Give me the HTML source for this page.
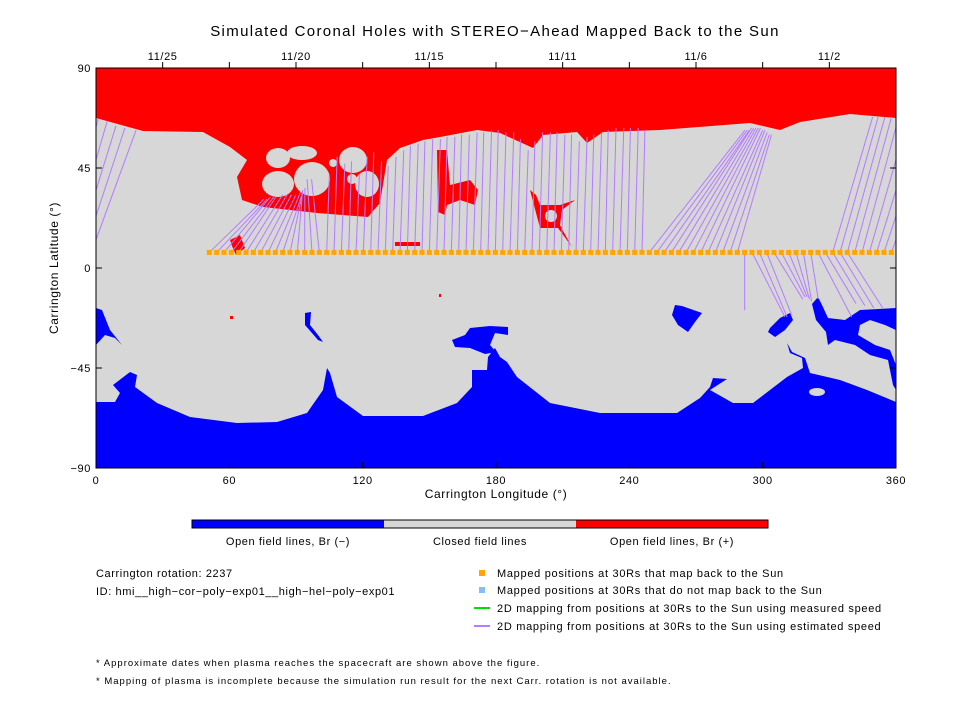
<!DOCTYPE html>
<html><head><meta charset="utf-8"><style>
body{margin:0;background:#fff;}
svg text{font-family:"Liberation Sans",sans-serif;fill:#000;letter-spacing:0.6px;}
</style></head><body>
<svg id="chart" width="960" height="720" viewBox="0 0 960 720" xmlns="http://www.w3.org/2000/svg">
<text x="495" y="36" font-size="15" text-anchor="middle" style="letter-spacing:1.35px">Simulated Coronal Holes with STEREO−Ahead Mapped Back to the Sun</text>
<g id="map">
<rect x="96" y="68" width="800" height="400" fill="#d7d7d7"/>
<path fill="#ff0000" d="M96,68 L896,68 L896,118 L850,114 L800,122 L780,130 L750,123 L660,130 L603,132 L587,143 L577,132 L543,135 L533,148 L500,133 L477,130 L440,137 L423,140 L400,148 L387,160 L380,203 L368,217 L317,213 L263,207 L242,200 L237,177 L247,160 L230,147 L203,132 L143,131 L96,118 Z"/>
<path fill="#ff0000" d="M437,150 L447,150 L450,185 L470,180 L478,190 L475,205 L460,200 L447,205 L445,215 L438,212 Z"/>
<g fill="#d7d7d7">
<ellipse cx="278" cy="158" rx="12" ry="10"/><ellipse cx="302" cy="153" rx="15" ry="7"/>
<ellipse cx="278" cy="184" rx="16" ry="13"/><ellipse cx="312" cy="179" rx="18" ry="17"/>
<ellipse cx="333" cy="163" rx="4" ry="4"/><ellipse cx="353" cy="160" rx="14" ry="13"/>
<ellipse cx="352" cy="179" rx="5" ry="5"/><ellipse cx="367" cy="184" rx="12" ry="13"/>
</g>
<g fill="#ff0000">
<path d="M540,205 L560,205 L575,200 L562,210 L560,225 L568,240 L572,247 L558,228 L540,228 L530,190 L536,195 Z"/>
<rect x="395" y="242" width="25" height="4"/>
<path d="M230,240 L240,235 L245,248 L236,255 L232,246 Z"/>
<rect x="230" y="316" width="3" height="3"/><rect x="439" y="294" width="2" height="3"/>
</g>
<ellipse cx="551" cy="216" rx="6" ry="6" fill="#d7d7d7"/>
<path fill="#0000ff" d="M96,468 L96,402 L115,402 L120,393 L113,385 L130,372 L137,375 L135,387 L157,403 L190,417 L237,423 L277,422 L307,413 L323,390 L327,368 L330,373 L337,397 L363,416 L423,416 L457,403 L472,387 L472,370 L487,370 L488,357 L495,348 L500,357 L507,362 L517,377 L550,403 L600,413 L677,413 L700,398 L710,387 L713,378 L727,379 L710,390 L733,403 L753,403 L787,377 L803,368 L802,358 L790,353 L787,343 L792,352 L805,358 L810,373 L840,380 L867,390 L896,402 L896,468 Z"/>
<g fill="#0000ff">
<path d="M96,308 L102,310 L110,330 L122,345 L115,338 L105,335 L96,345 Z"/>
<path d="M305,313 L311,312 L310,325 L318,335 L323,342 L318,340 L305,325 Z"/>
<path d="M452,340 L465,335 L470,328 L490,326 L508,327 L508,335 L495,333 L490,345 L496,352 L485,354 L470,348 L455,347 Z"/>
<path d="M675,305 L682,306 L702,313 L695,322 L688,332 L678,325 L672,315 Z"/>
<path d="M770,328 L780,318 L790,313 L793,320 L785,330 L775,337 L768,332 Z"/>
<path d="M812,304 L818,297 L822,305 L828,318 L845,320 L860,310 L896,308 L896,330 L885,325 L870,320 L860,325 L858,335 L875,345 L890,350 L896,365 L896,390 L893,385 L888,360 L870,355 L855,345 L835,340 L828,345 L826,332 L816,320 Z"/>
</g>
<ellipse cx="817" cy="392" rx="8" ry="4" fill="#d7d7d7"/>
<g id="lines"></g>
<g id="dots"></g>
</g>
<rect x="96" y="68" width="800" height="400" fill="none" stroke="#000" stroke-width="1"/>
<g id="axes"></g>
<text x="496" y="498" font-size="12" text-anchor="middle">Carrington Longitude (°)</text>
<text transform="translate(58,268) rotate(-90)" font-size="12" text-anchor="middle">Carrington Latitude (°)</text>
<g>
<rect x="192" y="520" width="192" height="8" fill="#0000ff"/>
<rect x="384" y="520" width="192" height="8" fill="#d7d7d7"/>
<rect x="576" y="520" width="192" height="8" fill="#ff0000"/>
<rect x="192" y="520" width="576" height="8" fill="none" stroke="#000"/>
<text x="288" y="545" font-size="11" text-anchor="middle">Open field lines, Br (−)</text>
<text x="480" y="545" font-size="11" text-anchor="middle">Closed field lines</text>
<text x="672" y="545" font-size="11" text-anchor="middle">Open field lines, Br (+)</text>
</g>
<text x="96" y="577" font-size="11">Carrington rotation: 2237</text>
<text x="96" y="595" font-size="11">ID: hmi__high−cor−poly−exp01__high−hel−poly−exp01</text>
<g>
<rect x="479" y="570" width="6" height="6" fill="#ffa500"/>
<text x="497" y="577" font-size="11" style="letter-spacing:0.7px">Mapped positions at 30Rs that map back to the Sun</text>
<rect x="479" y="587" width="6" height="6" fill="#7fbfff"/>
<text x="497" y="594" font-size="11" style="letter-spacing:0.7px">Mapped positions at 30Rs that do not map back to the Sun</text>
<line x1="474" y1="608" x2="490" y2="608" stroke="#00dd00" stroke-width="2"/>
<text x="497" y="612" font-size="11" style="letter-spacing:0.7px">2D mapping from positions at 30Rs to the Sun using measured speed</text>
<line x1="474" y1="626" x2="490" y2="626" stroke="#b57cff" stroke-width="2"/>
<text x="497" y="630" font-size="11" style="letter-spacing:0.7px">2D mapping from positions at 30Rs to the Sun using estimated speed</text>
</g>
<text x="96" y="666" font-size="9.5" style="letter-spacing:1px">* Approximate dates when plasma reaches the spacecraft are shown above the figure.</text>
<text x="96" y="684" font-size="9.5" style="letter-spacing:1px">* Mapping of plasma is incomplete because the simulation run result for the next Carr. rotation is not available.</text>
</svg>
<script>
const dotLon=[51.0,54.3,57.6,60.9,64.2,67.5,70.8,74.1,77.4,80.7,84.0,87.3,90.6,93.9,97.2,100.5,103.8,107.1,110.4,113.7,117.0,120.3,123.6,126.9,130.2,133.5,136.8,140.1,143.4,146.7,150.0,153.3,156.6,159.9,163.2,166.5,169.8,173.1,176.4,179.7,183.0,186.3,189.6,192.9,196.2,199.5,202.8,206.1,209.4,212.7,216.0,219.3,222.6,225.9,229.2,232.5,235.8,239.1,242.4,245.7,249.0,252.3,255.6,258.9,262.2,265.5,268.8,272.1,275.4,278.7,282.0,285.3,288.6,291.9,295.2,298.5,301.8,305.1,308.4,311.7,315.0,318.3,321.6,324.9,328.2,331.5,334.8,338.1,341.4,344.7,348.0,351.3,354.6,357.9];
const dotLat=7;
const lineStartLon=[51,54.3,57.6,60.9,64.2,67.5,70.8,74.1,77.4,80.7,84,87.3,90.6,93.9,97.2,100.5,
103.8,107.1,110.4,113.7,117,120.3,123.6,126.9,130.2,133.5,136.8,140.1,143.4,146.7,150,153.3,156.6,159.9,163.2,166.5,169.8,173.1,176.4,179.7,183,186.3,189.6,192.9,196.2,199.5,202.8,206.1,209.4,212.7,216,219.3,222.6,225.9,229.2,232.5,235.8,239.1,242.4,245.7,
249,252.3,255.6,258.9,262.2,265.5,268.8,272.1,275.4,278.7,282,285.3,288.6,
331.5,334.8,338.1,341.4,344.7,348,351.3,354.6,357.9,
291.9,295.2,298.5,301.8,305.1,308.4,311.7,315,318.3,321.6,324.9,328.2,331.5,334.8,338.1];
const lineEndLon=[75.6,77,78.5,80,81,84,86,88,90,92,93,93,93,94,95,97,
105,108.5,112,115,118.5,122,125,128.5,131.5,135,138.5,141.5,145,148,151.5,155,158,161.5,164.5,168,171.5,174.5,178,181,184.5,188,191,194.5,197.5,201,204.5,207.5,211,214,217.5,221,224,227.5,230.5,234,237.5,240.5,244,247,
292,293,294,295,296,297,298,299,300,301,302,303,304,
349.5,352,355,358,361,365,369,373,378,
291.9,310,311,313,318,319,320,321,322,325,340,342,346,350,354];
const lineEndLat=[31,31,32,32,32,33,33,33,33,34,34,34,35,36,40,40,
42,50,47,48,42,50,52,48,46,50,53,55,56,57,58,58,59,59,60,60,61,61,62,62,61,61,58,53,57,61,61,61,60,60,57,59,60,61,62,63,63,63,63,62,
62,62,62,63,63,63,63,63,62,62,61,60,60,
68,68,68,68,67,66,64,63,62,
-19,-22,-22,-21,-14,-13,-13,-14,-15,-14,-22,-16,-17,-18,-18];
const xLonTicks=[0,60,120,180,240,300,360];
const yLatTicks=[90,45,0,-45,-90];
const dateTickLon=[30,60,90,120,150,180,210,240,270,300,330];
const dateLabels=["11/25","11/20","11/15","11/11","11/6","11/2"];
const dateLabelLon=[30,90,150,210,270,330];

const NS="http://www.w3.org/2000/svg";
const X0=96,X1=896,Y0=68,Y1=468;
function xs(lon){return X0+lon*(X1-X0)/360;}
function ys(lat){return Y0+(90-lat)*(Y1-Y0)/180;}
function mk(tag,attrs,parent){const e=document.createElementNS(NS,tag);for(const k in attrs)e.setAttribute(k,attrs[k]);parent.appendChild(e);return e;}

const lg=document.getElementById('lines');
for(let i=0;i<lineStartLon.length;i++){
  const a=lineStartLon[i],b=lineEndLon[i],la=dotLat,lb=lineEndLat[i];
  const segs=[];
  if(b>360){const t=(360-a)/(b-a);const lm=la+(lb-la)*t;segs.push([a,la,360,lm]);segs.push([0,lm,b-360,lb]);}
  else segs.push([a,la,b,lb]);
  for(const s of segs){
    const l=mk('line',{x1:xs(s[0]),y1:ys(s[1]),x2:xs(s[2]),y2:ys(s[3]),stroke:'#b57cff','stroke-width':1},lg);
    
    
  }
}
const dg=document.getElementById('dots');
for(const lon of dotLon){
  const r=mk('rect',{x:xs(lon)-2.5,y:ys(dotLat)-2.5,width:5,height:5,fill:'#ffa500'},dg);
  
  
}
const ax=document.getElementById('axes');
for(const v of xLonTicks){
  const x=xs(v);
  const t=mk('line',{x1:x,y1:Y1,x2:x,y2:Y1-6,stroke:'#000'},ax);
  
  
  const tx=mk('text',{x:x,y:Y1+16,'font-size':11,'text-anchor':'middle'},ax);
  tx.textContent=v;
  
  
}
for(const v of yLatTicks){
  const y=ys(v);
  const t=mk('line',{x1:X0,y1:y,x2:X0+6,y2:y,stroke:'#000'},ax);
  
  
  const t2=mk('line',{x1:X1,y1:y,x2:X1-6,y2:y,stroke:'#000'},ax);
  
  
  const tx=mk('text',{x:X0-5,y:y+4,'font-size':11,'text-anchor':'end'},ax);
  tx.textContent=v===0?'0':(v<0?'−'+(-v):v);
  
  
}
for(const v of dateTickLon){
  const x=xs(v);
  const t=mk('line',{x1:x,y1:Y0,x2:x,y2:Y0-6,stroke:'#000'},ax);
  
  
}
for(let i=0;i<dateLabels.length;i++){
  const tx=mk('text',{x:xs(dateLabelLon[i]),y:Y0-8,'font-size':11,'text-anchor':'middle'},ax);
  tx.textContent=dateLabels[i];
  
  
}
</script>
</body></html>
